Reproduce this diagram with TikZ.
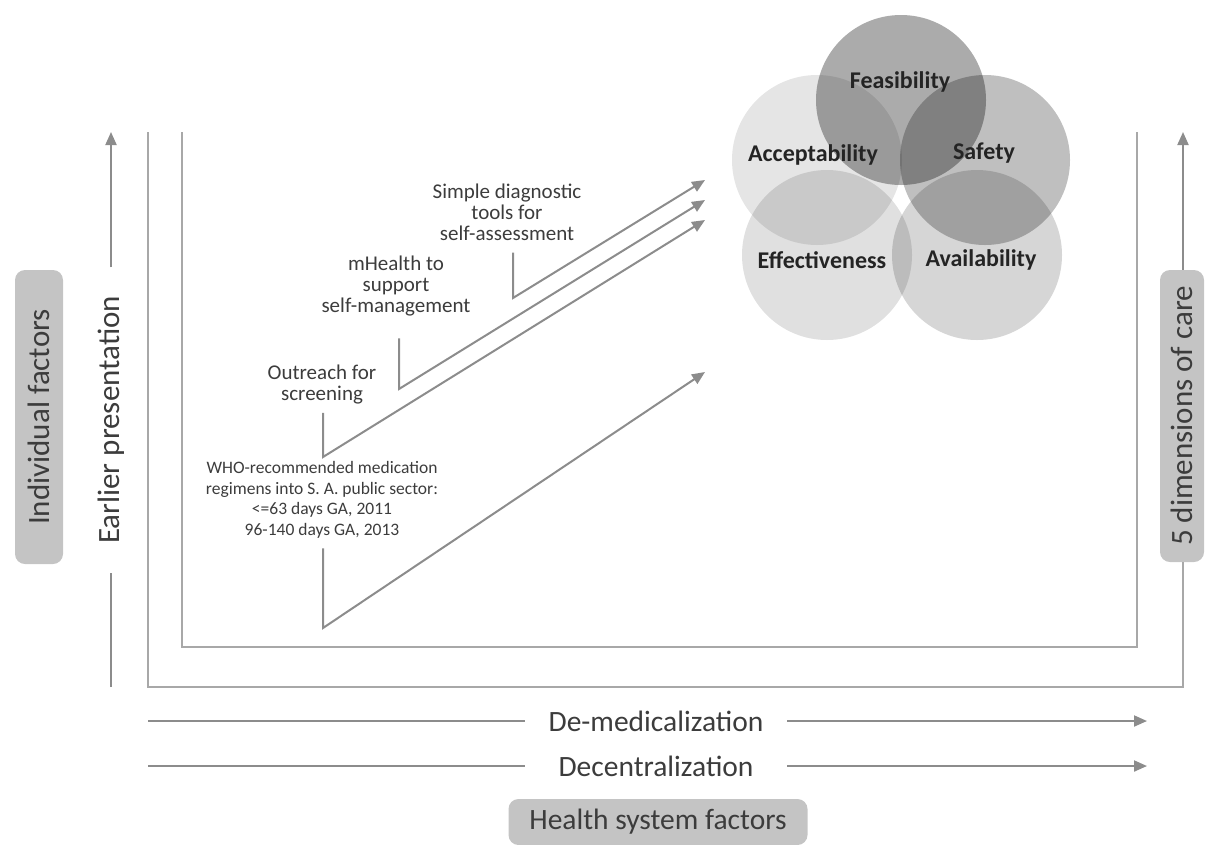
\documentclass[tikz,border=0pt]{standalone}
\usepackage{fontspec}
\setmainfont{Carlito}
\usetikzlibrary{arrows.meta}
\definecolor{linegray}{HTML}{A8A8A8}
\definecolor{arrgray}{HTML}{8C8C8C}
\definecolor{boxgray}{HTML}{C4C4C4}
\definecolor{txtgray}{HTML}{3C3C3C}
\definecolor{circtxt}{HTML}{242424}
\tikzset{
  frame/.style={draw=linegray, line width=2},
  conn/.style={draw=arrgray, line width=2, -{Triangle[length=13,width=11]}},
  plain/.style={draw=arrgray, line width=2},
  tagbox/.style={fill=boxgray, rounded corners=10, text=txtgray, font=\fontsize{29.5}{33}\selectfont, inner sep=0, align=center},
  sidebox/.style={tagbox, font=\fontsize{31}{34}\selectfont},
  axislbl/.style={text=txtgray, font=\fontsize{29.5}{33}\selectfont, inner sep=0},
  sidelbl/.style={axislbl, font=\fontsize{31}{34}\selectfont},
  steplbl/.style={text=txtgray, font=\fontsize{21}{21}\selectfont, align=center, inner sep=0},
  whololbl/.style={text=txtgray, font=\fontsize{17.5}{20.5}\selectfont, align=center, inner sep=0},
  dim/.style={circle, minimum size=170, inner sep=0, fill=black},
  dimlbl/.style={text=circtxt, font=\bfseries\fontsize{24}{28}\selectfont, inner sep=0}
}
\begin{document}
\begin{tikzpicture}[x=1pt, y=-1pt]
\useasboundingbox (0,0) rectangle (1206,844);

% five overlapping dimensions of care
\node[dim, fill opacity=0.10] (cAcc) at (817,160) {};
\node[dim, fill opacity=0.12] (cEff) at (827,255) {};
\node[dim, fill opacity=0.16] (cAva) at (977,255) {};
\node[dim, fill opacity=0.25] (cSaf) at (985,160) {};
\node[dim, fill opacity=0.33] (cFea) at (901,100) {};
\node[dimlbl] (lFea) at (900,82) {Feasibility};
\node[dimlbl] (lAcc) at (813,155) {Acceptability};
\node[dimlbl] (lSaf) at (984,153) {Safety};
\node[dimlbl] (lEff) at (822,260) {Effectiveness};
\node[dimlbl] (lAva) at (981,260) {Availability};

% nested frames
\coordinate (iTL) at (182,132);
\coordinate (iBL) at (182,647);
\coordinate (iBR) at (1137,647);
\coordinate (iTR) at (1137,132);
\draw[frame] (iTL) -- (iBL) -- (iBR) -- (iTR);

\node[sidebox, rotate=90, minimum width=292, minimum height=44] (dims) at (1182,416) {5 dimensions of care};
\coordinate (oTL) at (148,132);
\coordinate (oBL) at (148,687);
\coordinate (oBR) at (1183,687);
\coordinate (oTip) at (1183,132);
\draw[frame] (oTL) -- (oBL) -- (oBR) -- (oBR |- dims.west);
\draw[frame, -{Triangle[length=13,width=11]}, draw=arrgray] (oBR |- dims.east) -- (oTip);

% individual factors axis
\node[sidebox, rotate=90, minimum width=294, minimum height=48] (indiv) at (39,417) {Individual factors};
\node[sidelbl, rotate=90, minimum width=305] (early) at (111,420) {Earlier presentation};
\coordinate (eBot) at (111,687);
\coordinate (eTip) at (111,132);
\draw[plain] (eBot) -- (early.west);
\draw[conn] (early.east) -- (eTip);

% health system factors axis
\node[axislbl, minimum width=262] (demed) at (656,721) {De-medicalization};
\node[axislbl, minimum width=262] (decen) at (656,766) {Decentralization};
\coordinate (dmL) at (148,721);
\coordinate (dmR) at (1147,721);
\coordinate (dcL) at (148,766);
\coordinate (dcR) at (1147,766);
\draw[plain] (dmL) -- (demed.west);
\draw[conn] (demed.east) -- (dmR);
\draw[plain] (dcL) -- (decen.west);
\draw[conn] (decen.east) -- (dcR);
\node[tagbox, minimum width=299, minimum height=46] (hsf) at (658,822) {Health system factors};

% interventions leading to the dimensions of care
\node[steplbl] (sdt) at (507,212) {Simple diagnostic\\tools for\\self-assessment};
\node[steplbl] (mh) at (396,286) {mHealth to\\support\\self-management};
\node[steplbl] (out) at (322,385) {Outreach for\\screening};
\node[whololbl] (who) at (322,500) {WHO-recommended medication\\regimens into S. A. public sector:\\<=63 days GA, 2011\\96-140 days GA, 2013};

\coordinate (k1) at (513,298);
\coordinate (k2) at (399,389);
\coordinate (k3) at (323,457);
\coordinate (k4) at (323,628);
\coordinate (t1) at (705,180);
\coordinate (t2) at (705,200);
\coordinate (t3) at (705,220);
\coordinate (t4) at (705,372);
\draw[conn] ([yshift=-12]sdt.south -| k1) -- (k1) -- (t1);
\draw[conn] ([yshift=-22]mh.south -| k2) -- (k2) -- (t2);
\draw[conn] ([yshift=-8]out.south -| k3) -- (k3) -- (t3);
\draw[conn] ([yshift=-10]who.south -| k4) -- (k4) -- (t4);
\end{tikzpicture}
\end{document}
